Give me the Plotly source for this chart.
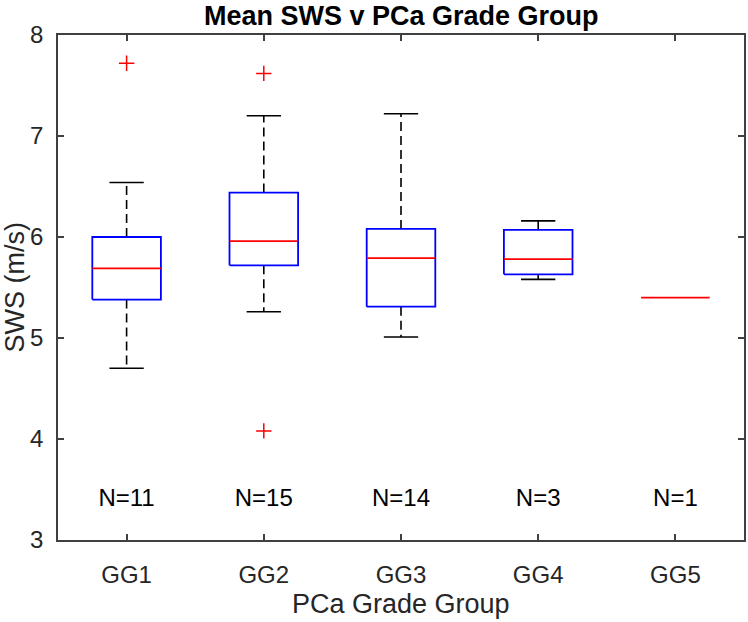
import plotly.graph_objects as go

categories = ["GG1", "GG2", "GG3", "GG4", "GG5"]
q1 = [5.38, 5.72, 5.31, 5.63, 5.40]
median = [5.69, 5.96, 5.79, 5.78, 5.40]
q3 = [6.00, 6.44, 6.08, 6.07, 5.40]
whisker_low = [4.70, 5.26, 5.01, 5.58, 5.40]
whisker_high = [6.54, 7.20, 7.22, 6.16, 5.40]
outlier_group = [1, 2, 2]
outlier_value = [7.72, 7.62, 4.08]
counts = [11, 15, 14, 3, 1]
count_label_y = 3.4
y_ticks = [3, 4, 5, 6, 7, 8]

FONT = "Liberation Sans, Arial, sans-serif"
BOX_W = 0.25   # half width of box
CAP_W = 0.125  # half width of whisker caps
positions = list(range(1, len(categories) + 1))

fig = go.Figure()

# whiskers (dashed) and caps
wx, wy, cx, cy = [], [], [], []
for p, lo, a, b, hi in zip(positions, whisker_low, q1, q3, whisker_high):
    if hi > b:
        wx += [p, p, None]
        wy += [b, hi, None]
        cx += [p - CAP_W, p + CAP_W, None]
        cy += [hi, hi, None]
    if lo < a:
        wx += [p, p, None]
        wy += [a, lo, None]
        cx += [p - CAP_W, p + CAP_W, None]
        cy += [lo, lo, None]
fig.add_trace(go.Scatter(x=wx, y=wy, mode="lines",
                         line=dict(color="black", width=1.6, dash="9px,5px"),
                         hoverinfo="skip", showlegend=False))
fig.add_trace(go.Scatter(x=cx, y=cy, mode="lines",
                         line=dict(color="black", width=1.6),
                         hoverinfo="skip", showlegend=False))

# boxes (a box collapsed onto its median is hidden by the median line)
bx, by = [], []
for p, a, b in zip(positions, q1, q3):
    if b > a:
        bx += [p - BOX_W, p + BOX_W, p + BOX_W, p - BOX_W, p - BOX_W, None]
        by += [a, a, b, b, a, None]
fig.add_trace(go.Scatter(x=bx, y=by, mode="lines",
                         line=dict(color="#0000ff", width=1.8),
                         hoverinfo="skip", showlegend=False))

# medians
mx, my = [], []
for p, m in zip(positions, median):
    mx += [p - BOX_W, p + BOX_W, None]
    my += [m, m, None]
fig.add_trace(go.Scatter(x=mx, y=my, mode="lines",
                         line=dict(color="#ff0000", width=1.8),
                         hoverinfo="skip", showlegend=False))

# outliers
fig.add_trace(go.Scatter(x=outlier_group, y=outlier_value, mode="markers",
                         marker=dict(symbol="cross-thin", size=11,
                                     line=dict(color="#ff0000", width=1.5)),
                         showlegend=False))

# N labels
fig.add_trace(go.Scatter(x=positions, y=[count_label_y] * len(positions),
                         mode="text", text=[f"N={n}" for n in counts],
                         textfont=dict(family=FONT, size=24, color="black"),
                         textposition="middle center",
                         hoverinfo="skip", showlegend=False))

axis_common = dict(showline=True, linecolor="#404040", linewidth=1.5, mirror="ticks",
                   ticks="inside", ticklen=6, tickcolor="#404040", tickwidth=1.5,
                   showgrid=False, zeroline=False, automargin=False,
                   tickfont=dict(family=FONT, size=24, color="#262626"))

fig.update_layout(
    width=748, height=622,
    margin=dict(l=58, r=4, t=35, b=82),
    paper_bgcolor="white", plot_bgcolor="white",
    xaxis=dict(range=[0.5, 5.5], tickvals=positions, ticktext=categories,
               ticklabelstandoff=12, **axis_common),
    yaxis=dict(range=[3, 8], tickvals=y_ticks, ticklabelstandoff=8, **axis_common),
    annotations=[
        dict(text="<b>Mean SWS v PCa Grade Group</b>", xref="paper", yref="paper",
             x=0.5, y=1, yshift=19, xanchor="center", yanchor="middle",
             showarrow=False, font=dict(family=FONT, size=27, color="black")),
        dict(text="PCa Grade Group", xref="paper", yref="paper",
             x=0.5, y=0, yshift=-64, xanchor="center", yanchor="middle",
             showarrow=False, font=dict(family=FONT, size=27, color="#262626")),
        dict(text="SWS (m/s)", xref="paper", yref="paper", textangle=-90,
             x=0, y=0.5, xshift=-44, xanchor="center", yanchor="middle",
             showarrow=False, font=dict(family=FONT, size=27, color="#262626")),
    ],
)

fig.write_html("out.html", config={"displayModeBar": False},
               post_script="document.body.style.margin='0';document.body.style.overflow='hidden';")
